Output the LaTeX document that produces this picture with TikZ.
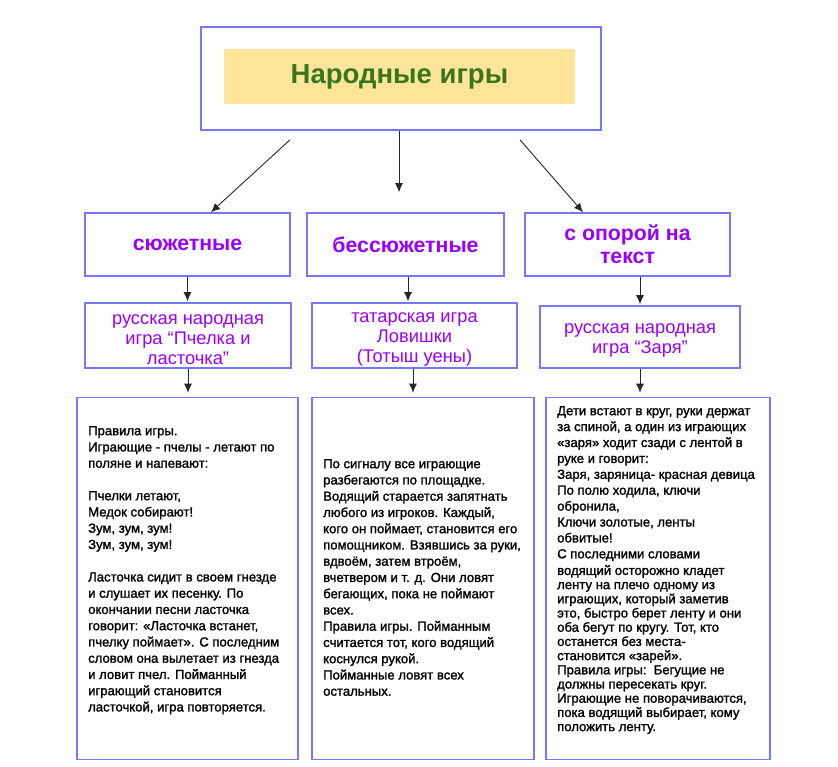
\documentclass[tikz,border=0pt]{standalone}
\usepackage{fontspec}
\setmainfont{Liberation Sans}
\newfontfamily\rulesfont{Liberation Sans}[RawFeature={embolden=1.5}]
\usetikzlibrary{arrows.meta}

\definecolor{boxblue}{RGB}{118,118,255}
\definecolor{gamepurple}{HTML}{9900FF}
\definecolor{titlegreen}{HTML}{38761D}
\definecolor{titleyellow}{HTML}{FFE599}

\tikzset{
  box/.style={draw=boxblue, line width=1.6pt, fill=white, inner sep=0pt},
  kind/.style={box, text=gamepurple, align=center, font=\fontsize{21.3}{23}\selectfont\bfseries},
  gamename/.style={text=gamepurple, align=center, inner sep=0pt, font=\fontsize{18.3}{19.7}\selectfont},
  rules/.style={anchor=north west, inner sep=0pt, align=left, font=\rulesfont\fontsize{13.1}{16.25}\selectfont},
  arr/.style={draw=black!85, line width=0.9pt, -{Latex[length=9pt,width=8pt]}},
}

\begin{document}
\begin{tikzpicture}[x=1pt,y=-1pt]
  \useasboundingbox (0,0) rectangle (838,766);

  % Draw the title box
  \node[box, minimum width=400pt, minimum height=103pt] (title) at (401,78.5) {};
  \node[fill=titleyellow, minimum width=351pt, minimum height=55pt] (titlefill) at (399.5,76.5) {};
  \node[anchor=base, text=titlegreen, font=\fontsize{27.5}{30}\selectfont\bfseries] (titletext) at (399.5,83) {Народные игры};

  % Draw the three kinds of games
  \node[kind, minimum width=205pt, minimum height=63pt] (cat1) at (187.5,244.5) {сюжетные};
  \node[kind, minimum width=197pt, minimum height=63pt] (cat2) at (405.5,244.5) {бессюжетные};
  \node[kind, minimum width=205pt, minimum height=63pt] (cat3) at (627.5,244.5) {с опорой на\\текст};

  % Draw the game names
  \node[box, minimum width=206pt, minimum height=65pt] (game1) at (188,335.5) {};
  \node[gamename] (name1) at ([yshift=-4pt]game1.center) {русская народная\\игра “Пчелка и\\ласточка”};
  \node[box, minimum width=205pt, minimum height=65pt] (game2) at (414.5,335.5) {};
  \node[gamename] (name2) at ([yshift=-4pt]game2.center) {татарская игра\\Ловишки\\(Тотыш уены)};
  \node[box, minimum width=200pt, minimum height=62pt] (game3) at (640,337) {};
  \node[gamename] (name3) at ([yshift=-3.5pt]game3.center) {русская народная\\игра “Заря”};

  % Draw the boxes with the rules
  \node[box, minimum width=221pt, minimum height=362pt] (rules1) at (187.5,578.5) {};
  \node[box, minimum width=222pt, minimum height=362pt] (rules2) at (423,578.5) {};
  \node[box, minimum width=224pt, minimum height=362pt] (rules3) at (658,578.5) {};

  \node[rules] (text1) at (88,426) {Правила игры.\\
    Играющие - пчелы - летают по\\
    поляне и напевают:\\[16.25pt]
    Пчелки летают,\\
    Медок собирают!\\
    Зум, зум, зум!\\
    Зум, зум, зум!\\[16.25pt]
    Ласточка сидит в своем гнезде\\
    и слушает их песенку. По\\
    окончании песни ласточка\\
    говорит: «Ласточка встанет,\\
    пчелку поймает». С последним\\
    словом она вылетает из гнезда\\
    и ловит пчел. Пойманный\\
    играющий становится\\
    ласточкой, игра повторяется.};

  \node[rules] (text2) at (323,459) {По сигналу все играющие\\
    разбегаются по площадке.\\
    Водящий старается запятнать\\
    любого из игроков. Каждый,\\
    кого он поймает, становится его\\
    помощником. Взявшись за руки,\\
    вдвоём, затем втроём,\\
    вчетвером и т. д. Они ловят\\
    бегающих, пока не поймают\\
    всех.\\
    Правила игры. Пойманным\\
    считается тот, кого водящий\\
    коснулся рукой.\\
    Пойманные ловят всех\\
    остальных.};

  \node[rules, font=\rulesfont\fontsize{13.1}{15.9}\selectfont] (text3a) at (557,406) {Дети встают в круг, руки держат\\
    за спиной, а один из играющих\\
    «заря» ходит сзади с лентой в\\
    руке и говорит:\\
    Заря, заряница- красная девица\\
    По полю ходила, ключи\\
    обронила,\\
    Ключи золотые, ленты\\
    обвитые!\\
    С последними словами};
  \node[rules, font=\rulesfont\fontsize{13.1}{14.2}\selectfont] (text3b) at (557,565) {водящий осторожно кладет\\
    ленту на плечо одному из\\
    играющих, который заметив\\
    это, быстро берет ленту и они\\
    оба бегут по кругу. Тот, кто\\
    останется без места-\\
    становится «зарей».\\
    Правила игры:\ \ Бегущие не\\
    должны пересекать круг.\\
    Играющие не поворачиваются,\\
    пока водящий выбирает, кому\\
    положить ленту.};

  % Draw the arrows
  \draw[arr] ([xshift=-111pt,yshift=-9pt]title.south) -- ([xshift=23.5pt]cat1.north);
  \draw[arr] ([xshift=-2pt]title.south) -- ([xshift=-6.5pt,yshift=20pt]cat2.north);
  \draw[arr] ([xshift=119pt,yshift=-9pt]title.south) -- ([xshift=-44.5pt]cat3.north);

  \draw[arr, shorten >=1pt] (cat1.south) -- (cat1.south |- game1.north);
  \draw[arr, shorten >=1pt] ([xshift=2.5pt]cat2.south) -- ([xshift=2.5pt]cat2.south |- game2.north);
  \draw[arr, shorten >=1pt] (game3.north |- cat3.south) -- (game3.north);

  \draw[arr, shorten >=4pt] (game1.south) -- (game1.south |- rules1.north);
  \draw[arr, shorten >=4pt] ([xshift=-1.5pt]game2.south) -- ([xshift=-1.5pt]game2.south |- rules2.north);
  \draw[arr, shorten >=4pt] (game3.south) -- (game3.south |- rules3.north);
\end{tikzpicture}
\end{document}
